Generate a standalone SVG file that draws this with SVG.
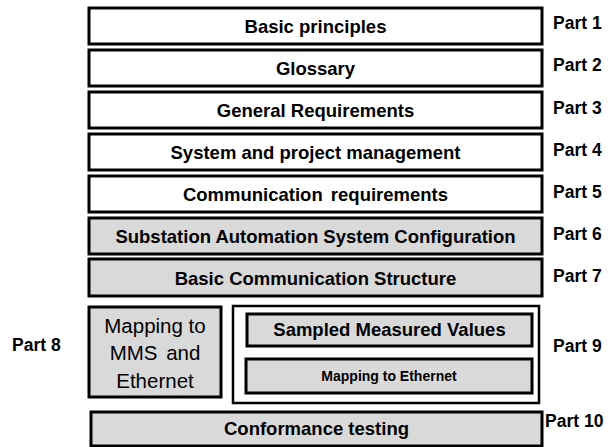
<svg xmlns="http://www.w3.org/2000/svg" width="611" height="447" viewBox="0 0 611 447">
<style>
.w{fill:#ffffff;stroke:#000;stroke-width:3}
.g{fill:#d9d9d9;stroke:#000;stroke-width:3}
.o{fill:#ffffff;stroke:#000;stroke-width:2.5}
.t{font-family:"Liberation Sans",Arial,sans-serif;font-weight:bold;font-size:18.5px;fill:#000;text-anchor:middle}
.p{font-family:"Liberation Sans",Arial,sans-serif;font-weight:bold;font-size:17.5px;fill:#000}
.s{font-family:"Liberation Sans",Arial,sans-serif;font-weight:bold;font-size:14px;fill:#000;text-anchor:middle}
.r{font-family:"Liberation Sans",Arial,sans-serif;font-size:20.5px;fill:#000;text-anchor:middle}
</style>
<rect width="611" height="447" fill="#ffffff"/>
<g id="part1"><rect class="w" x="89" y="8" width="453" height="36"/><text class="t" x="315.5" y="32.5">Basic principles</text><text class="p" x="553" y="29">Part 1</text></g>
<g id="part2"><rect class="w" x="89" y="50" width="453" height="36"/><text class="t" x="315.5" y="74.5">Glossary</text><text class="p" x="553" y="71">Part 2</text></g>
<g id="part3"><rect class="w" x="89" y="92" width="453" height="36"/><text class="t" x="315.5" y="116.5">General Requirements</text><text class="p" x="553" y="114">Part 3</text></g>
<g id="part4"><rect class="w" x="89" y="134" width="453" height="36"/><text class="t" x="315.5" y="158.5">System and project management</text><text class="p" x="553" y="156">Part 4</text></g>
<g id="part5"><rect class="w" x="89" y="176" width="453" height="36"/><text class="t" x="315.5" y="200.5" word-spacing="3">Communication requirements</text><text class="p" x="553" y="198">Part 5</text></g>
<g id="part6"><rect class="g" x="89" y="218" width="453" height="36"/><text class="t" x="315.5" y="242.5">Substation Automation System Configuration</text><text class="p" x="553" y="240">Part 6</text></g>
<g id="part7"><rect class="g" x="89" y="259" width="453" height="37"/><text class="t" x="315.5" y="284.5">Basic Communication Structure</text><text class="p" x="553" y="282">Part 7</text></g>
<g id="part8"><rect class="g" x="89" y="307" width="132" height="90" stroke-width="2.5"/><text class="r" x="155" y="333">Mapping to</text><text class="r" x="155" y="360" word-spacing="3">MMS and</text><text class="r" x="155" y="388">Ethernet</text><text class="p" x="12" y="351">Part 8</text></g>
<g id="part9"><rect class="o" x="233" y="306" width="306" height="97"/><rect class="g" x="247" y="314" width="285" height="32"/><text class="t" x="389.5" y="336">Sampled Measured Values</text><rect class="g" x="246" y="359" width="286" height="34"/><text class="s" x="389" y="381">Mapping to Ethernet</text><text class="p" x="553" y="352">Part 9</text></g>
<g id="part10"><rect class="g" x="91" y="412" width="451" height="34"/><text class="t" x="316.5" y="435">Conformance testing</text><text class="p" x="545" y="427">Part 10</text></g>
<g id="connectors"></g>
</svg>
